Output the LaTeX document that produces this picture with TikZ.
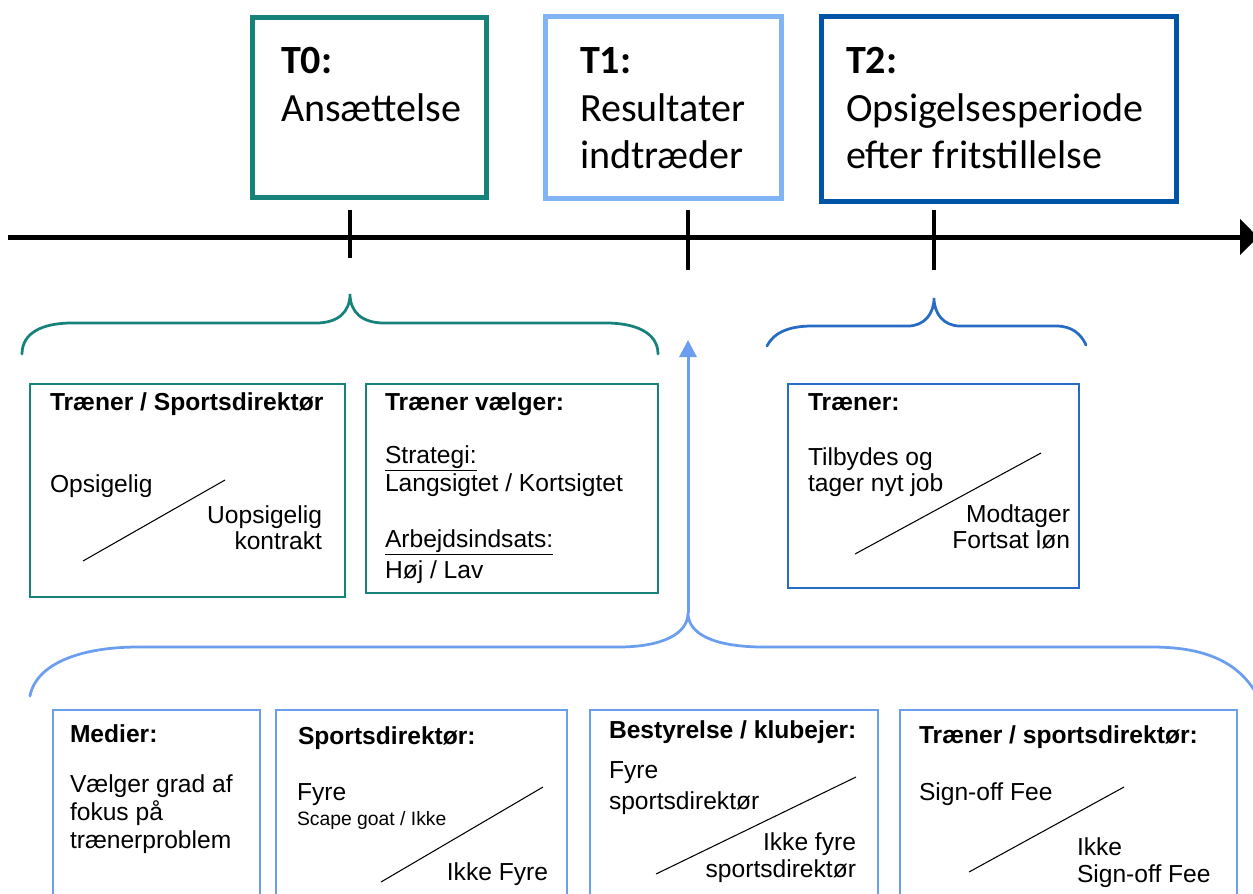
\documentclass[tikz,border=0pt]{standalone}
\usepackage{fontspec}
\setmainfont{Liberation Sans}
\newfontfamily\calibri{Carlito}
\usetikzlibrary{arrows.meta, fit}

\definecolor{tealline}{RGB}{22,130,122}
\definecolor{skyline}{RGB}{128,180,245}
\definecolor{navyline}{RGB}{0,84,166}
\definecolor{midblue}{RGB}{38,108,196}
\definecolor{paleblue}{RGB}{108,158,240}

\begin{document}
\begin{tikzpicture}[x=0.02cm, y=-0.02cm, font=\fontsize{14}{17}\selectfont,
	every node/.style={inner sep=0pt, outer sep=0pt},
	lbl/.style={anchor=base west},
	lblr/.style={anchor=base east},
	head/.style={anchor=base west, font=\fontsize{14}{17}\selectfont\bfseries},
	small/.style={anchor=base west, font=\fontsize{11}{13}\selectfont},
	toptxt/.style={anchor=base west, font=\calibri\fontsize{22.8}{27}\selectfont},
	tophead/.style={anchor=base west, font=\calibri\fontsize{22.8}{27}\selectfont\bfseries},
	tbox/.style={draw=#1, line width=0.1cm},
	ibox/.style={draw=#1, line width=0.04cm},
	slash/.style={draw=black, line width=0.6pt},
	brace/.style={draw=#1, line width=0.055cm, line cap=round},
	tick/.style={draw=black, line width=0.08cm},
	timeaxis/.style={draw=black, line width=0.1cm, -{Triangle[length=0.36cm, width=0.7cm]}}]

	\useasboundingbox (0,0) rectangle (1253,893);

	% Tidspunkter
	\node[tbox=tealline, fit={(252,17) (486,197)}] (t0box) {};
	\node[tophead] (t0lbl) at (281,73) {T0:};
	\node[toptxt] (t0txt) at (281,121) {Ansættelse};

	\node[tbox=skyline, fit={(545,16) (781,198)}] (t1box) {};
	\node[tophead] (t1lbl) at (580,73) {T1:};
	\node[toptxt] (t1txt) at (580,121) {Resultater};
	\node[toptxt] (t1txt2) at (580,168) {indtræder};

	\node[tbox=navyline, fit={(821,16) (1176,201)}] (t2box) {};
	\node[tophead] (t2lbl) at (846,73) {T2:};
	\node[toptxt] (t2txt) at (846,121) {Opsigelsesperiode};
	\node[toptxt] (t2txt2) at (846,168) {efter fritstillelse};

	% Tidslinje
	\coordinate (axis start) at (8,237);
	\coordinate (axis end) at (1258,237);
	\draw[timeaxis] (axis start) -- (axis end);
	\draw[tick] (350,210) -- (350,258);
	\draw[tick] (688,210) -- (688,270);
	\draw[tick] (934,210) -- (934,270);

	% Klammer
	\draw[brace=tealline] (22,354) .. controls (22,333) and (42,323) .. (72,323) -- (316,323)
		.. controls (338,323) and (350,312) .. (350,294) .. controls (350,312) and (362,323) .. (384,323)
		-- (606,323) .. controls (636,323) and (658,333) .. (658,354);
	\draw[brace=midblue] (767,346) .. controls (774,332) and (790,326) .. (812,326) -- (908,326)
		.. controls (924,326) and (934,314) .. (934,298) .. controls (934,314) and (944,326) .. (960,326)
		-- (1056,326) .. controls (1072,326) and (1081,334) .. (1086,345);
	\draw[brace=paleblue] (30,696) .. controls (36,664) and (80,647) .. (138,647) -- (618,647)
		.. controls (662,647) and (688,634) .. (688,613) .. controls (688,634) and (714,647) .. (764,647)
		-- (1152,647) .. controls (1210,647) and (1245,665) .. (1262,705);

	% Pil fra T1
	\coordinate (cusp) at (688,613);
	\coordinate (arrow top) at (688,340);
	\draw[paleblue, line width=0.06cm, -{Triangle[length=0.34cm, width=0.34cm]}] (cusp) -- (arrow top);

	% Boks: Træner / Sportsdirektør
	\node[ibox=tealline, fit={(30,384) (345,597)}] (contractbox) {};
	\node[head] (contracthead) at (50,410) {Træner / Sportsdirektør};
	\node[lbl] (contracta) at (50,492) {Opsigelig};
	\node[lblr] (contractb) at (322,523) {Uopsigelig};
	\node[lblr] (contractc) at (322,549) {kontrakt};
	\draw[slash] (83,561) -- (225,480);

	% Boks: Træner vælger
	\node[ibox=tealline, fit={(366,384) (658,593)}] (choicebox) {};
	\node[head] (choicehead) at (385,410) {Træner vælger:};
	\node[lbl] (choicea) at (385,463) {\underline{Strategi:}};
	\node[lbl] (choiceb) at (385,491) {Langsigtet / Kortsigtet};
	\node[lbl] (choicec) at (385,547) {\underline{Arbejdsindsats:}};
	\node[lbl] (choiced) at (385,578) {Høj / Lav};

	% Boks: Træner (T2)
	\node[ibox=midblue, fit={(788,384) (1079,588)}] (coachbox) {};
	\node[head] (coachhead) at (808,410) {Træner:};
	\node[lbl] (coacha) at (808,465) {Tilbydes og};
	\node[lbl] (coachb) at (808,491) {tager nyt job};
	\node[lblr] (coachc) at (1070,522) {Modtager};
	\node[lblr] (coachd) at (1070,548) {Fortsat løn};
	\draw[slash] (855,554) -- (1041,453);

	% Boks: Medier
	\node[ibox=paleblue, fit={(53,710) (260,905)}] (mediabox) {};
	\node[head] (mediahead) at (70,742) {Medier:};
	\node[lbl] (mediaa) at (70,792) {Vælger grad af};
	\node[lbl] (mediab) at (70,820) {fokus på};
	\node[lbl] (mediac) at (70,848) {trænerproblem};

	% Boks: Sportsdirektør
	\node[ibox=paleblue, fit={(276,710) (567,905)}] (directorbox) {};
	\node[head] (directorhead) at (298,744) {Sportsdirektør:};
	\node[lbl] (directora) at (297,800) {Fyre};
	\node[small] (directorb) at (297,825) {Scape goat / Ikke};
	\node[lblr] (directorc) at (548,880) {Ikke Fyre};
	\draw[slash] (381,882) -- (543,787);

	% Boks: Bestyrelse / klubejer
	\node[ibox=paleblue, fit={(590,710) (878,905)}] (boardbox) {};
	\node[head] (boardhead) at (609,738) {Bestyrelse / klubejer:};
	\node[lbl] (boarda) at (609,778) {Fyre};
	\node[lbl] (boardb) at (609,809) {sportsdirektør};
	\node[lblr] (boardc) at (856,850) {Ikke fyre};
	\node[lblr] (boardd) at (856,877) {sportsdirektør};
	\draw[slash] (656,874) -- (856,777);

	% Boks: Træner / sportsdirektør
	\node[ibox=paleblue, fit={(900,710) (1237,905)}] (feebox) {};
	\node[head] (feehead) at (919,743) {Træner / sportsdirektør:};
	\node[lbl] (feea) at (919,800) {Sign-off Fee};
	\node[lbl] (feeb) at (1077,855) {Ikke};
	\node[lbl] (feec) at (1077,882) {Sign-off Fee};
	\draw[slash] (969,872) -- (1124,787);
\end{tikzpicture}
\end{document}
